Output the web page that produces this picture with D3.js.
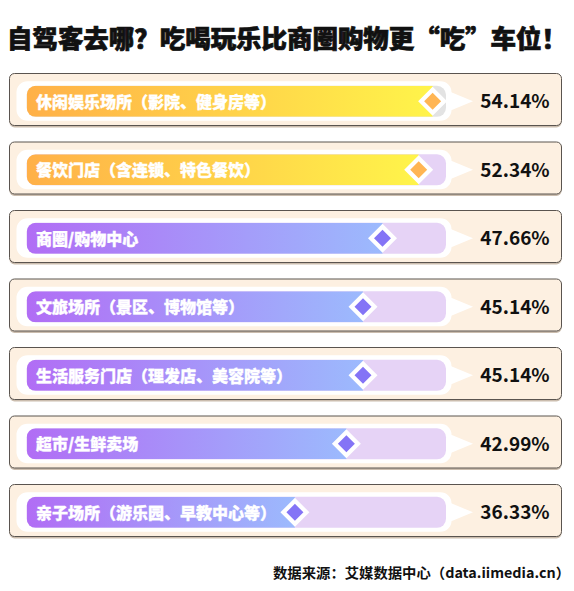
<!DOCTYPE html>
<html>
<head>
<meta charset="utf-8">
<script src="https://cdn.jsdelivr.net/npm/d3@7"></script>
<style>
  html, body { margin: 0; padding: 0; background: #ffffff; }
  svg { display: block; }
  text { font-family: "Noto Sans CJK SC", "Noto Sans", sans-serif; }
</style>
</head>
<body>
<div id="chart"></div>
<script>
const title = "自驾客去哪？吃喝玩乐比商圈购物更“吃”车位！";
const source = "数据来源：艾媒数据中心（data.iimedia.cn）";
const categories = [
  "休闲娱乐场所（影院、健身房等）",
  "餐饮门店（含连锁、特色餐饮）",
  "商圈/购物中心",
  "文旅场所（景区、博物馆等）",
  "生活服务门店（理发店、美容院等）",
  "超市/生鲜卖场",
  "亲子场所（游乐园、早教中心等）"
];
const values = [54.14, 52.34, 47.66, 45.14, 45.14, 42.99, 36.33];

const W = 574, H = 591;
const svg = d3.select("#chart").append("svg").attr("width", W).attr("height", H);
const defs = svg.append("defs");

const gradOrange = defs.append("linearGradient").attr("id", "gOrange");
gradOrange.append("stop").attr("offset", "0%").attr("stop-color", "#ffb048");
gradOrange.append("stop").attr("offset", "100%").attr("stop-color", "#fff44a");
const gradPurple = defs.append("linearGradient").attr("id", "gPurple");
gradPurple.append("stop").attr("offset", "0%").attr("stop-color", "#b16df5");
gradPurple.append("stop").attr("offset", "100%").attr("stop-color", "#9cbafd");

// Title
svg.append("text")
  .attr("x", 7).attr("y", 48)
  .attr("font-size", 25).attr("font-weight", 900).attr("fill", "#111")
  .attr("stroke", "#111").attr("stroke-width", 0.7)
  .attr("textLength", 560).attr("lengthAdjust", "spacingAndGlyphs")
  .text(title);

const x = d3.scaleLinear().domain([0, 56]).range([14, 447]);
const y = d3.scaleBand().domain(d3.range(categories.length)).range([73.5, 73.5 + 68.5 * 7]).paddingInner(0);

const trackX0 = 26.7, trackX1 = x(56) - 1;

const rows = svg.append("g").selectAll("g.row")
  .data(categories.map((c, i) => ({ c, v: values[i], i })))
  .join("g").attr("class", "row")
  .attr("transform", d => `translate(0,${y(d.i)})`);

// card shadow + card
rows.append("rect").attr("x", 9.5).attr("y", 2).attr("width", 552).attr("height", 52)
  .attr("rx", 5).attr("fill", "#cbbdae");
rows.append("rect").attr("x", 9.5).attr("y", 0).attr("width", 552).attr("height", 52)
  .attr("rx", 5).attr("fill", "#fdf0e1").attr("stroke", "#5a544f").attr("stroke-width", 1);

const cy = 27.8;
// white pill with pointer
rows.append("rect").attr("x", 16.5).attr("y", cy - 20).attr("width", 435).attr("height", 39.5)
  .attr("rx", 11).attr("fill", "#ffffff");
rows.append("path").attr("fill", "#ffffff")
  .attr("d", `M444,${cy - 12} L473,${cy} L444,${cy + 12} Z`);

// track
rows.each(function(d) {
  defs.append("clipPath").attr("id", "clip" + d.i)
    .append("rect").attr("x", trackX0).attr("y", cy - 15.5)
    .attr("width", trackX1 - trackX0).attr("height", 31).attr("rx", 9);
});
rows.append("rect").attr("x", trackX0).attr("y", cy - 15.5)
  .attr("width", trackX1 - trackX0).attr("height", 31).attr("rx", 9)
  .attr("fill", d => d.i === 0 ? "#e3e3e3" : "#e6d3f6");

// bar
rows.append("rect")
  .attr("clip-path", d => `url(#clip${d.i})`)
  .attr("x", trackX0).attr("y", cy - 15.5)
  .attr("width", d => x(d.v) - trackX0).attr("height", 31)
  .attr("fill", d => d.i < 2 ? "url(#gOrange)" : "url(#gPurple)");

// label
rows.append("text").attr("x", 36).attr("y", cy + 6.5)
  .attr("font-size", 16).attr("font-weight", 900).attr("fill", "#ffffff")
  .attr("stroke", "#ffffff").attr("stroke-width", 0.35)
  .text(d => d.c);

// diamond marker
rows.append("path")
  .attr("d", d => { const cx = x(d.v), r = 14.5; return `M${cx},${cy - r} L${cx + r},${cy} L${cx},${cy + r} L${cx - r},${cy} Z`; })
  .attr("fill", "#ffffff");
rows.append("path")
  .attr("d", d => { const cx = x(d.v), r = 8.5; return `M${cx},${cy - r} L${cx + r},${cy} L${cx},${cy + r} L${cx - r},${cy} Z`; })
  .attr("fill", d => d.i < 2 ? "#ffb553" : "#8474f6");

// value
rows.append("text").attr("x", 515).attr("y", cy + 7)
  .attr("text-anchor", "middle")
  .attr("font-size", 19).attr("font-weight", 700).attr("fill", "#111")
  .text(d => d3.format(".2f")(d.v) + "%");

// source
svg.append("text").attr("x", 273).attr("y", 578)
  .attr("font-size", 14).attr("font-weight", 700).attr("fill", "#111")
  .attr("textLength", 297).attr("lengthAdjust", "spacingAndGlyphs")
  .text(source);
</script>
</body>
</html>
